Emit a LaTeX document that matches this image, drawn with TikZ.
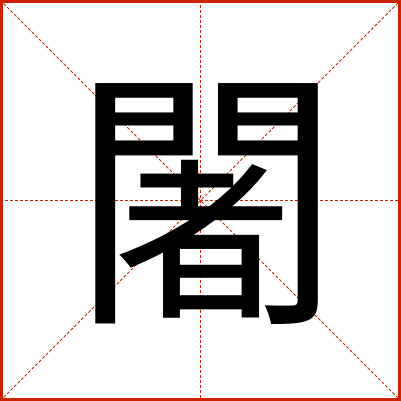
\documentclass[tikz,border=0pt]{standalone}
\usepackage{fontspec}
\newfontfamily\cjk{Noto Sans CJK TC}
\definecolor{gridred}{HTML}{CC2200}
\tikzset{guide/.style={draw=gridred, line width=0.8pt, dash pattern=on 3pt off 2pt},
  frame/.style={draw=gridred, line width=3pt}}
\begin{document}
\begin{tikzpicture}[x=1pt,y=1pt]
\useasboundingbox (0,0) rectangle (401,401);
\coordinate (bl) at (0,0);
\coordinate (tr) at (401,401);
\coordinate (tl) at (0,401);
\coordinate (br) at (401,0);
\coordinate (ml) at (0,200.5);
\coordinate (mr) at (401,200.5);
\coordinate (mt) at (200.5,401);
\coordinate (mb) at (200.5,0);
\draw[guide] (bl) -- (tr);
\draw[guide] (tl) -- (br);
\draw[guide] (ml) -- (mr);
\draw[guide] (mt) -- (mb);
\node (ch) at (206,197) {\cjk\fontsize{272}{272}\selectfont 闍};
\draw[frame] (1.5,1.5) rectangle (399.5,399.5);
\end{tikzpicture}
\end{document}
